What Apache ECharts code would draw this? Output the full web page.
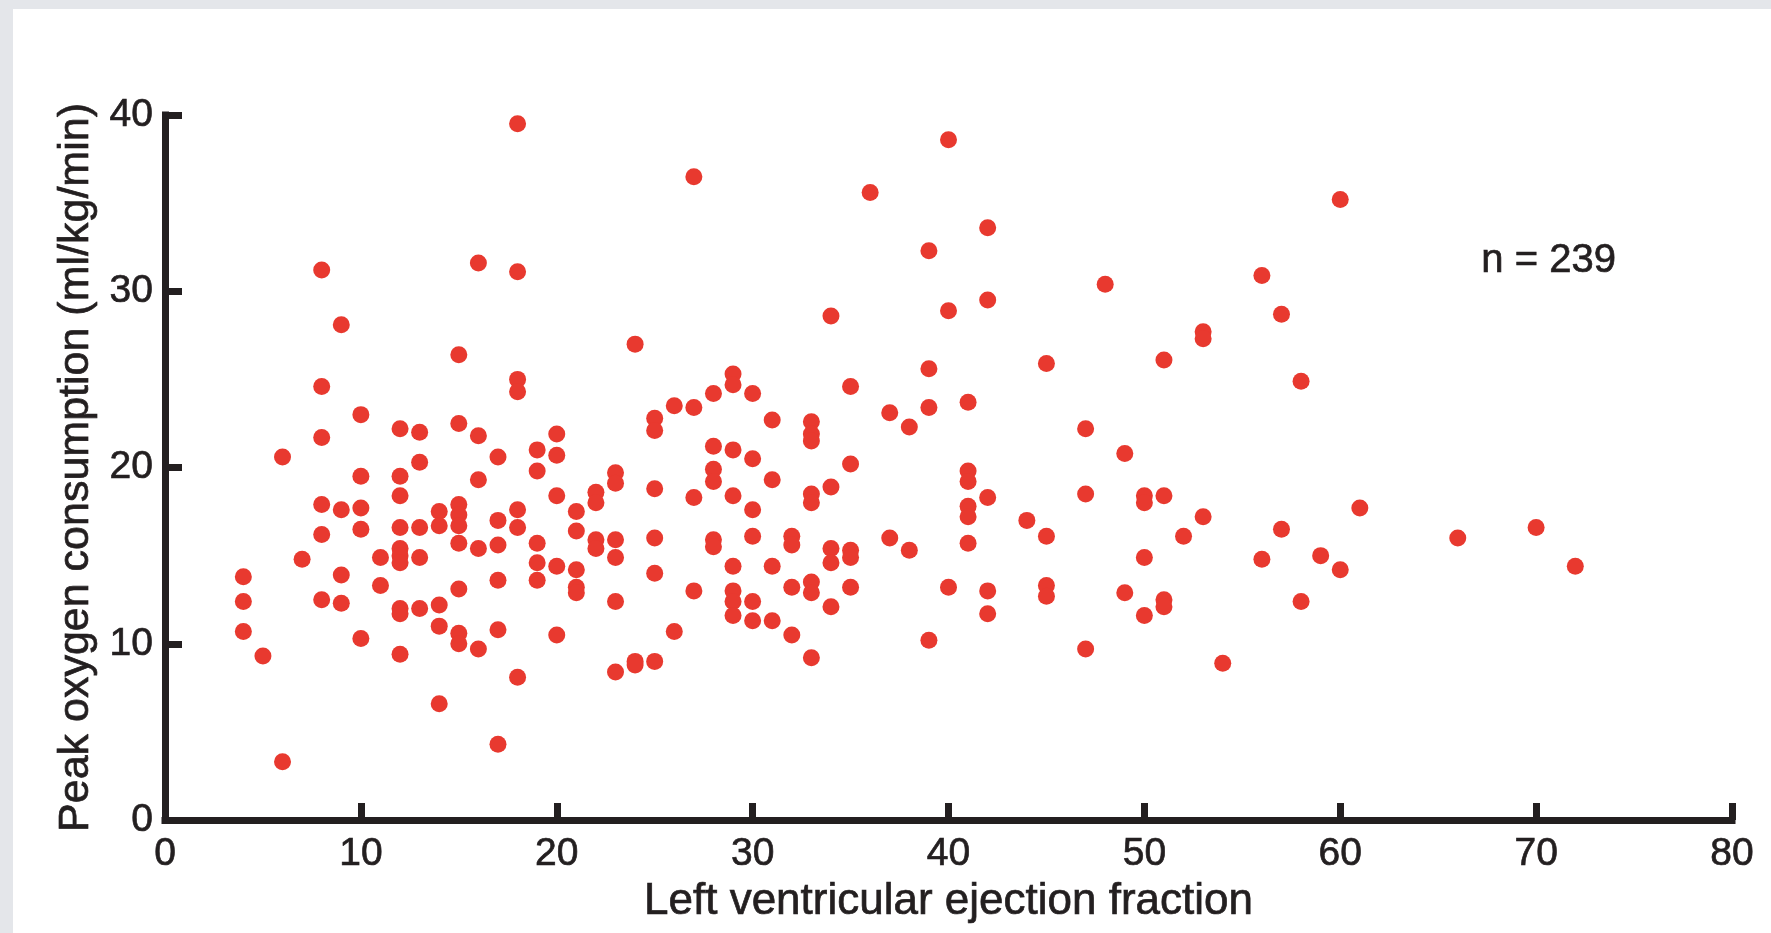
<!DOCTYPE html>
<html>
<head>
<meta charset="utf-8">
<script src="https://cdn.jsdelivr.net/npm/echarts@6/dist/echarts.min.js"></script>
<style>
  html, body { margin: 0; padding: 0; background: #e4e6ea; }
  #chart {
    position: absolute; left: 13px; top: 9px;
    width: 1758px; height: 924px; background: #fff;
  }
</style>
</head>
<body>
<div id="chart"></div>
<script>
// left ventricular ejection fraction (x) and peak VO2 (y)
var lvef = [
  18, 8, 16, 18, 9, 15, 8, 18, 18, 10, 12, 13, 15, 8, 16, 17, 19, 20, 20, 6, 13,
  10, 12, 12, 16, 19, 20, 8, 9, 10, 10, 8, 12, 13, 14, 14, 15, 15, 15, 15, 16, 17, 17, 18, 18,
  19, 19, 19, 20, 7, 11, 12, 12, 12, 13, 4, 4, 4, 5, 9, 8, 9, 11, 10, 12, 12, 13, 14, 14,
  15, 15, 15, 16, 17, 17, 20, 12, 18, 14, 17, 6,
  27, 40, 36, 39, 34, 40, 24, 39, 29, 29, 28, 30, 35, 26, 27, 25, 25, 31, 33, 33, 33, 37, 38,
  39, 41, 28, 29, 30, 35,
  23, 23, 28, 28, 31, 25, 22, 22, 27, 29, 33, 33, 34, 21, 30, 21, 22, 22, 23, 23, 25, 28, 28,
  30, 32, 32, 34, 34, 35, 35, 37, 38, 41, 21, 21, 21, 23, 25, 27, 29, 29, 29, 29, 30, 30, 31,
  31, 32, 32, 33, 33, 33, 34, 35, 40, 39, 26, 23, 24, 24, 25,
  42, 42, 60, 48, 56, 57, 53, 53, 45, 51, 58, 47, 49,
  41, 41, 42, 41, 41, 44, 45, 47, 50, 50, 51, 53, 52, 50, 57, 56, 59, 60, 61, 42, 42, 45, 45,
  49, 50, 51, 51, 58, 47, 54,
  66, 70, 72
];
var peakVO2 = [
  39.5, 31.2, 31.6, 31.1, 28.1, 26.4, 24.6, 25.0, 24.3, 23.0, 22.2, 22.0, 22.5, 21.7, 21.8, 20.6, 21.0, 21.9, 20.7, 20.6, 20.3,
  19.5, 19.5, 18.4, 19.3, 19.8, 18.4, 17.9, 17.6, 17.7, 16.5, 16.2, 16.6, 16.6, 17.5, 16.7, 17.9, 17.3, 16.7, 15.7, 15.4, 17.0, 15.6, 17.6, 16.6,
  15.7, 14.6, 13.6, 14.4, 14.8, 14.9, 15.4, 15.0, 14.6, 14.9, 13.8, 12.4, 10.7, 9.3, 13.9, 12.5, 12.3, 13.3, 10.3, 12.0, 11.7, 12.0, 12.2, 11.0,
  13.1, 10.6, 10.0, 9.7, 13.6, 10.8, 10.5, 9.4, 8.1, 6.6, 4.3, 3.3,
  36.5, 38.6, 35.6, 32.3, 28.6, 28.9, 27.0, 25.6, 25.3, 24.7, 24.2, 24.2, 24.6, 23.5, 23.4, 22.8, 22.1, 22.7, 22.6, 21.9, 21.5, 23.1, 22.3,
  23.4, 23.7, 21.2, 21.0, 20.5, 20.2,
  19.7, 19.1, 19.9, 19.2, 19.3, 18.8, 18.6, 18.0, 18.3, 18.4, 18.5, 18.0, 18.9, 17.5, 17.6, 16.4, 15.9, 15.4, 15.9, 14.9, 16.0, 15.9, 15.5,
  16.1, 16.1, 15.6, 15.4, 14.6, 15.3, 14.9, 16.0, 15.3, 15.7, 14.2, 13.2, 12.9, 12.4, 14.0, 13.0, 14.4, 13.0, 12.4, 11.6, 12.4, 11.3, 14.4,
  11.3, 13.2, 10.5, 13.5, 12.9, 9.2, 12.1, 13.2, 13.2, 10.2, 10.7, 8.4, 9.0, 8.8, 9.0,
  33.6, 29.5, 35.2, 30.4, 30.9, 28.7, 27.7, 27.3, 25.9, 26.1, 24.9, 22.2, 20.8,
  19.8, 19.2, 18.3, 17.8, 17.2, 17.0, 16.1, 18.5, 18.4, 18.0, 18.4, 17.2, 16.1, 14.9, 16.5, 14.8, 15.0, 14.2, 17.7, 13.0, 11.7, 13.3, 12.7,
  12.9, 11.6, 12.5, 12.1, 12.4, 9.7, 8.9,
  16.0, 16.6, 14.4
];
var xTicks = [0, 10, 20, 30, 40, 50, 60, 70, 80];
var yTicks = [0, 10, 20, 30, 40];
var sampleLabel = 'n = 239';

var ink = '#231f20';
var font = '"Liberation Sans", Arial, Helvetica, sans-serif';

var points = lvef.map(function (x, i) { return [x, peakVO2[i]]; });

function axisCommon(ticks) {
  return {
    type: 'value',
    min: ticks[0],
    max: ticks[ticks.length - 1],
    interval: ticks[1] - ticks[0],
    axisLine: { show: true, lineStyle: { color: ink, width: 7, cap: 'square' } },
    axisTick: { show: true, inside: true, length: 17, lineStyle: { color: ink, width: 7 } },
    axisLabel: {
      color: ink, fontSize: 39, fontFamily: font, margin: 12,
      textBorderColor: ink, textBorderWidth: 0.7
    },
    splitLine: { show: false },
    nameLocation: 'middle',
    nameTextStyle: {
      color: ink, fontSize: 44, fontFamily: font,
      textBorderColor: ink, textBorderWidth: 0.7
    }
  };
}

var myChart = echarts.init(document.getElementById('chart'));
var xAxis = axisCommon(xTicks);
xAxis.name = 'Left ventricular ejection fraction';
xAxis.nameGap = 60;
xAxis.axisLabel.margin = 15;
var yAxis = axisCommon(yTicks);
yAxis.name = 'Peak oxygen consumption (ml/kg/min)';
yAxis.nameGap = 53;
yAxis.nameRotate = 90;
yAxis.nameTextStyle.fontSize = 43;

myChart.setOption({
  animation: false,
  grid: { left: 152, top: 106, right: 39, bottom: 113, containLabel: false },
  xAxis: xAxis,
  yAxis: yAxis,
  graphic: [{
    type: 'text',
    left: 1468,
    top: 232,
    style: {
      text: sampleLabel, font: '40px ' + font, fill: ink,
      stroke: ink, lineWidth: 0.7
    }
  }],
  series: [{
    type: 'scatter',
    data: points,
    symbol: 'circle',
    symbolSize: 17,
    itemStyle: { color: '#e8392f', opacity: 1 }
  }]
});
</script>
</body>
</html>
